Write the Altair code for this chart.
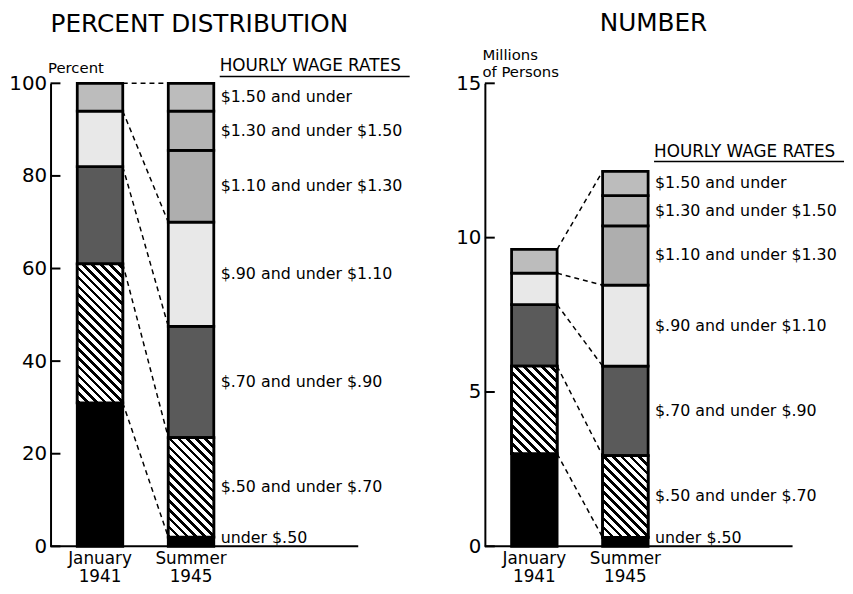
import altair as alt
import pandas as pd
import numpy as np

# ---------------- data ----------------
periods = ["January 1941", "Summer 1945"]
rates_1941 = ["under $.50", "$.50 and under $.70", "$.70 and under $.90",
              "$.90 and under $1.10", "$1.10 and over"]
rates_1945 = ["under $.50", "$.50 and under $.70", "$.70 and under $.90",
              "$.90 and under $1.10", "$1.10 and under $1.30",
              "$1.30 and under $1.50", "$1.50 and under"]

pct_1941 = [31, 30, 21, 12, 6]
pct_1945 = [2, 21.5, 24, 22.5, 15.5, 8.5, 6]
num_1941 = [3.0, 2.84, 1.99, 1.02, 0.77]
num_1945 = [0.29, 2.65, 2.90, 2.62, 1.92, 0.98, 0.79]

pct_ticks = [0, 20, 40, 60, 80, 100]
num_ticks = [0, 5, 10, 15]

header = "HOURLY WAGE RATES"

# ---------------- styles ----------------
FONT = "DejaVu Sans"
fills = {
    "under $.50": "#000000",
    "$.50 and under $.70": "#7f7f7f",
    "$.70 and under $.90": "#5a5a5a",
    "$.90 and under $1.10": "#e8e8e8",
    "$1.10 and under $1.30": "#aeaeae",
    "$1.30 and under $1.50": "#b4b4b4",
    "$1.50 and under": "#bcbcbc",
    "$1.10 and over": "#bcbcbc",
}
HATCH = "$.50 and under $.70"
W, H = 311, 468
BAND = 46


def hatch_fill(w, h, period=9.0, frac=0.42):
    L = w + h
    k = L / (w * w + h * h)
    stops = [{"offset": 0, "color": "white"}]
    s = 0.0
    while s < L:
        a = s / L
        b = min((s + frac * period) / L, 1.0)
        stops += [{"offset": a, "color": "white"}, {"offset": a, "color": "black"},
                  {"offset": b, "color": "black"}, {"offset": b, "color": "white"}]
        s += period
    stops.append({"offset": 1, "color": "white"})
    return {"gradient": "linear", "x1": 0, "y1": 1, "x2": k * w, "y2": 1 - k * h,
            "stops": stops}


def panel(v41, v45, ticks, ymax, axis_title, axis_title_y, title_text,
          title_dx, title_offset, hdr_dy, ul_dy):
    rows = []
    for period, rates, vals in [(periods[0], rates_1941, v41),
                                (periods[1], rates_1945, v45)]:
        c = np.concatenate([[0], np.cumsum(vals)])
        for i, (r, v) in enumerate(zip(rates, vals)):
            rows.append(dict(period=period, rate=r, y0=float(c[i]),
                             y1=float(c[i + 1]), mid=float((c[i] + c[i + 1]) / 2)))
    seg = pd.DataFrame(rows)

    c41 = np.cumsum(v41)
    c45 = np.cumsum(v45)
    pairs = [(c41[k], c45[k]) for k in range(4)] + [(c41[-1], c45[-1])]
    conn = pd.DataFrame({"from": periods[0], "to": periods[1],
                         "y_from": [float(a) for a, b in pairs],
                         "y_to": [float(b) for a, b in pairs]})
    tk = pd.DataFrame({"v": ticks})
    top = pd.DataFrame({"period": [periods[1]], "top": [float(c45[-1])]})

    xs = alt.Scale(domain=periods, range=[27, 165], paddingInner=0.5, paddingOuter=0)
    ys = alt.Scale(domain=[0, ymax], nice=False, zero=True)

    xaxis = alt.Axis(labelExpr="split(datum.label, ' ')", domain=False, ticks=False,
                     labelPadding=4, labelFontSize=17, labelFont=FONT, labelLineHeight=19,
                     labelColor="black", labelAngle=0, title=None)
    yaxis = alt.Axis(values=ticks, ticks=False, labelFontSize=20, labelFont=FONT,
                     labelColor="black", labelPadding=4, domainColor="black",
                     domainWidth=2, grid=False, title=axis_title, titleAngle=0,
                     titleAlign="left", titleBaseline="alphabetic", titleX=-3,
                     titleY=axis_title_y, titleFontSize=15, titleFontWeight="normal",
                     titleFont=FONT, titleColor="black", titleLineHeight=17)

    bars = alt.Chart(seg).mark_bar(stroke="black", strokeWidth=2.8).encode(
        x=alt.X("period:N", scale=xs, axis=xaxis, sort=periods),
        y=alt.Y("y1:Q", scale=ys, axis=yaxis),
        y2="y0:Q",
        fill=alt.Fill("rate:N", scale=alt.Scale(domain=list(fills), range=list(fills.values())),
                      legend=None),
    )

    layers = [bars]
    for period, vals in [(periods[0], v41), (periods[1], v45)]:
        hpx = vals[1] * H / ymax
        layers.append(
            alt.Chart(seg).transform_filter(
                (alt.datum.rate == HATCH) & (alt.datum.period == period)
            ).mark_bar(fill=hatch_fill(BAND, hpx), stroke="black", strokeWidth=2.8).encode(
                x=alt.X("period:N", scale=xs),
                y=alt.Y("y1:Q", scale=ys),
                y2="y0:Q",
            )
        )

    connectors = alt.Chart(conn).mark_rule(strokeDash=[5, 4], strokeWidth=1.5,
                                          color="black").encode(
        x=alt.X("from:N", scale=xs, bandPosition=1),
        x2=alt.X2("to:N", bandPosition=0),
        y=alt.Y("y_from:Q", scale=ys),
        y2="y_to:Q",
    )
    tick_rules = alt.Chart(tk).mark_rule(strokeWidth=2, color="black").encode(
        y=alt.Y("v:Q", scale=ys), x=alt.value(0), x2=alt.value(10))
    baseline = alt.Chart(tk).transform_filter(alt.datum.v == 0).mark_rule(
        strokeWidth=2, color="black").encode(
        y=alt.Y("v:Q", scale=ys), x=alt.value(0), x2=alt.value(W))

    summer = seg[seg.period == periods[1]]
    labels = alt.Chart(summer).transform_filter(alt.datum.rate != "under $.50").mark_text(
        align="left", baseline="middle", dx=7, fontSize=16, font=FONT, color="black").encode(
        x=alt.X("period:N", scale=xs, bandPosition=1),
        y=alt.Y("mid:Q", scale=ys),
        text="rate:N")
    low_label = alt.Chart(summer).transform_filter(alt.datum.rate == "under $.50").mark_text(
        align="left", baseline="alphabetic", dx=7, dy=-3, fontSize=16, font=FONT,
        color="black").encode(
        x=alt.X("period:N", scale=xs, bandPosition=1),
        y=alt.Y("y0:Q", scale=ys),
        text="rate:N")
    hdr = alt.Chart(top).mark_text(align="left", baseline="alphabetic", dx=6, dy=hdr_dy,
                                   fontSize=17, font=FONT, color="black").encode(
        x=alt.X("period:N", scale=xs, bandPosition=1),
        y=alt.Y("top:Q", scale=ys),
        text=alt.value(header))
    underline = alt.Chart(top).mark_rule(xOffset=6, x2Offset=6 + 192, yOffset=ul_dy,
                                         strokeWidth=1.5, color="black").encode(
        x=alt.X("period:N", scale=xs, bandPosition=1),
        x2=alt.X2("period:N", bandPosition=1),
        y=alt.Y("top:Q", scale=ys))

    layers += [connectors, tick_rules, baseline, labels, low_label, hdr, underline]
    return alt.layer(*layers).properties(
        width=W, height=H,
        title=alt.TitleParams(title_text, anchor="start", frame="group", dx=title_dx,
                              offset=title_offset, fontSize=25, font=FONT,
                              fontWeight="normal", color="black"),
    )


left = panel(pct_1941, pct_1945, pct_ticks, 100, "Percent", -11,
             "PERCENT DISTRIBUTION", 0, 21, -12, -7)
right = panel(num_1941, num_1945, num_ticks, 15, ["Millions", "of Persons"], -24,
              "NUMBER", 116, 12, -14, -10)

chart = alt.hconcat(left, right, spacing=128, bounds="flush").properties(
    padding=0
).configure_view(stroke=None)

chart.save("out.html", embed_options={"renderer": "svg", "actions": False})
